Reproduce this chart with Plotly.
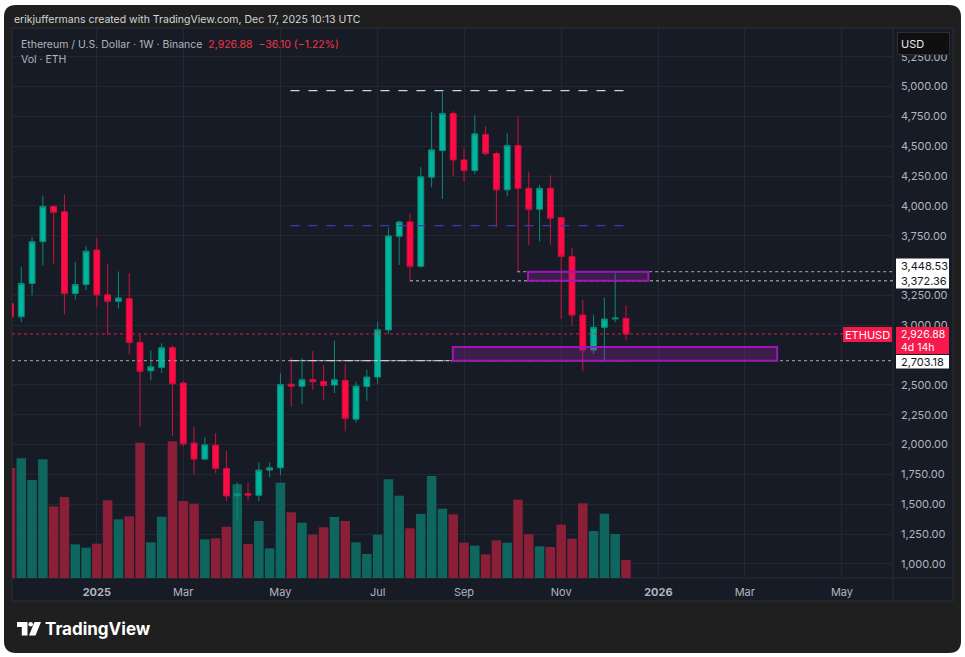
import plotly.graph_objects as go

# ---------------- data (weekly ETH/USD, Binance) ----------------
DATES = ["2024-11-11", "2024-11-18", "2024-11-25", "2024-12-02", "2024-12-09", "2024-12-16",
         "2024-12-23", "2024-12-30", "2025-01-06", "2025-01-13", "2025-01-20", "2025-01-27",
         "2025-02-03", "2025-02-10", "2025-02-17", "2025-02-24", "2025-03-03", "2025-03-10",
         "2025-03-17", "2025-03-24", "2025-03-31", "2025-04-07", "2025-04-14", "2025-04-21",
         "2025-04-28", "2025-05-05", "2025-05-12", "2025-05-19", "2025-05-26", "2025-06-02",
         "2025-06-09", "2025-06-16", "2025-06-23", "2025-06-30", "2025-07-07", "2025-07-14",
         "2025-07-21", "2025-07-28", "2025-08-04", "2025-08-11", "2025-08-18", "2025-08-25",
         "2025-09-01", "2025-09-08", "2025-09-15", "2025-09-22", "2025-09-29", "2025-10-06",
         "2025-10-13", "2025-10-20", "2025-10-27", "2025-11-03", "2025-11-10", "2025-11-17",
         "2025-11-24", "2025-12-01", "2025-12-08", "2025-12-15"]
OPEN = [3180, 3070, 3350, 3700, 3995, 3950, 3265, 3340, 3630, 3255, 3200, 3222,
        2856, 2618, 2646, 2811, 2515, 2012, 1878, 1995, 1800, 1570, 1590, 1575,
        1786, 1805, 2506, 2488, 2543, 2529, 2498, 2537, 2213, 2486, 2566, 2960,
        3745, 3865, 3493, 4240, 4463, 4774, 4385, 4296, 4597, 4438, 4134, 4505,
        4147, 3971, 4147, 3901, 3574, 3085, 2792, 2982, 3052, 3057]
HIGH = [3445, 3490, 3740, 4085, 4005, 4095, 3530, 3665, 3730, 3515, 3450, 3435,
        2920, 2790, 2848, 2830, 2530, 2150, 2062, 2096, 1947, 1682, 1682, 1850,
        1850, 2596, 2728, 2725, 2786, 2669, 2870, 2675, 2526, 2627, 3029, 3815,
        3876, 3933, 4324, 4785, 4955, 4793, 4486, 4759, 4667, 4455, 4609, 4748,
        4287, 4176, 4256, 3905, 3647, 3214, 3088, 3228, 3435, 3165]
LOW = [3015, 3025, 3250, 3500, 3515, 3090, 3215, 3295, 3150, 2920, 3140, 2755,
       2150, 2540, 2600, 2070, 1985, 1752, 1870, 1761, 1528, 1375, 1528, 1528,
       1724, 1744, 2319, 2339, 2459, 2375, 2431, 2110, 2185, 2367, 2507, 2926,
       3505, 3372, 3485, 4156, 4058, 4248, 4206, 4268, 4421, 3820, 4080, 3438,
       3672, 3703, 3675, 3052, 2996, 2613, 2758, 2708, 3024, 2873]
CLOSE = [3070, 3350, 3700, 3995, 3945, 3265, 3340, 3620, 3255, 3200, 3228, 2856,
         2613, 2652, 2811, 2509, 2006, 1878, 1998, 1800, 1570, 1590, 1575, 1786,
         1805, 2503, 2488, 2543, 2526, 2495, 2543, 2219, 2490, 2566, 2962, 3748,
         3865, 3493, 4243, 4469, 4774, 4385, 4296, 4603, 4438, 4134, 4505, 4147,
         3971, 4147, 3896, 3577, 3085, 2792, 2982, 3052, 3060, 2926.88]
VOLUME = [3300, 3590, 2940, 3560, 2150, 2430, 1010, 910, 1030, 2330, 1760, 1850,
          4060, 1070, 1840, 4100, 2310, 2230, 1160, 1190, 1540, 2810, 1020, 1710,
          890, 2860, 1970, 1660, 1300, 1520, 1830, 1710, 1070, 720, 1300, 2960,
          2470, 1490, 1920, 3060, 2080, 1910, 1060, 970, 710, 1130, 1060, 2350,
          1310, 950, 930, 1600, 1180, 2240, 1410, 1930, 1320, 540]  # thousand ETH

# 2,750 and 3,500 are hidden behind the price labels in the original
PRICE_TICKS = [1000, 1250, 1500, 1750, 2000, 2250, 2500, 3000, 3250,
               3750, 4000, 4250, 4500, 4750, 5000, 5250]
TIME_TICK_DATES = ["2025-01-06", "2025-03-03", "2025-05-05", "2025-07-07", "2025-09-01",
                   "2025-11-03", "2026-01-05", "2026-03-02", "2026-05-04"]
TIME_TICK_LABELS = ["<b>2025</b>", "Mar", "May", "Jul", "Sep", "Nov", "<b>2026</b>", "Mar", "May"]

LAST_PRICE = 2926.88
CHANGE_TEXT = "−36.10 (−1.22%)"
ATH_LEVEL = 4965
MID_LEVEL = 3834
RES_HIGH = 3448.53
RES_LOW = 3372.36
SUPPORT = 2703.18
SUPPORT_TOP = 2817

X_RANGE = ["2024-11-12 00:00", "2026-06-06 02:00"]
PRICE_RANGE = [882, 5490]
VOL_RANGE = [0, 16500]

# ---------------- styling ----------------
FONT = "Inter, Roboto, sans-serif"
BG = "#171b26"
FRAME = "#1f1f20"
GRID = "#232733"
TXT = "#b2b5be"
UP = "#00b39b"
UP_LINE = "#0b8a78"
DN = "#ff0a45"
DN_LINE = "#d0103f"
UP_VOL = "#0e665e"
DN_VOL = "#8c1f38"
LABEL_RED = "#f7194a"

W_FIG, H_FIG = 965, 657
L, R, T, B = 12, 893, 28, 578
PW, PH = R - L, B - T


def fx(x):
    return (x - L) / PW


def fy(y):
    return (B - y) / PH


vol_colors = [UP_VOL if c >= o else DN_VOL for o, c in zip(OPEN, CLOSE)]

fig = go.Figure()
fig.add_trace(go.Bar(x=DATES, y=VOLUME, marker=dict(color=vol_colors, line=dict(width=0)),
                     xaxis="x", yaxis="y", hoverinfo="skip", showlegend=False))
fig.add_trace(go.Candlestick(
    x=DATES, open=OPEN, high=HIGH, low=LOW, close=CLOSE,
    xaxis="x", yaxis="y2",
    increasing=dict(line=dict(color=UP_LINE, width=1), fillcolor=UP),
    decreasing=dict(line=dict(color=DN_LINE, width=1), fillcolor=DN),
    whiskerwidth=0, hoverinfo="skip", showlegend=False))


def rounded_rect(x0, y0, x1, y1, r):
    return (f"M {fx(x0 + r)},{fy(y0)} L {fx(x1 - r)},{fy(y0)} Q {fx(x1)},{fy(y0)} {fx(x1)},{fy(y0 + r)} "
            f"L {fx(x1)},{fy(y1 - r)} Q {fx(x1)},{fy(y1)} {fx(x1 - r)},{fy(y1)} "
            f"L {fx(x0 + r)},{fy(y1)} Q {fx(x0)},{fy(y1)} {fx(x0)},{fy(y1 - r)} "
            f"L {fx(x0)},{fy(y0 + r)} Q {fx(x0)},{fy(y0)} {fx(x0 + r)},{fy(y0)} Z")


def poly(pts):
    return "M " + " L ".join(f"{fx(a)},{fy(b)}" for a, b in pts) + " Z"


shapes = []
# outer frame and chart panel
shapes.append(dict(type="path", xref="paper", yref="paper", path=rounded_rect(4, 5, 961, 653, 12),
                   fillcolor=FRAME, line=dict(width=0), layer="below"))
shapes.append(dict(type="rect", xref="paper", yref="paper", x0=fx(12), x1=fx(953), y0=fy(28), y1=fy(601),
                   fillcolor=BG, line=dict(color="#2a2e39", width=1), layer="below"))
# axis separators
shapes.append(dict(type="line", xref="paper", yref="paper", x0=fx(893), x1=fx(893), y0=fy(28), y1=fy(601),
                   line=dict(color="#2a2e39", width=1), layer="below"))
shapes.append(dict(type="line", xref="paper", yref="paper", x0=fx(12), x1=fx(953), y0=fy(578), y1=fy(578),
                   line=dict(color="#2a2e39", width=1), layer="below"))

# user drawn levels
shapes.append(dict(type="line", xref="x", yref="y2", x0="2025-05-11 12:00", x1="2025-12-19 02:00",
                   y0=ATH_LEVEL, y1=ATH_LEVEL, line=dict(color="#d1d4dc", width=1.3, dash="dash")))
shapes.append(dict(type="line", xref="x", yref="y2", x0="2025-05-11 12:00", x1="2025-12-19 02:00",
                   y0=MID_LEVEL, y1=MID_LEVEL, line=dict(color="#3b3ba8", width=1.3, dash="dash")))
shapes.append(dict(type="line", xref="x", yref="y2", x0="2025-10-05 12:00", x1=X_RANGE[1],
                   y0=RES_HIGH, y1=RES_HIGH, line=dict(color="#8a8d96", width=1.3, dash="dot")))
shapes.append(dict(type="line", xref="x", yref="y2", x0="2025-07-28", x1=X_RANGE[1],
                   y0=RES_LOW, y1=RES_LOW, line=dict(color="#8a8d96", width=1.3, dash="dot")))
shapes.append(dict(type="line", xref="paper", yref="y2", x0=0, x1=1,
                   y0=SUPPORT, y1=SUPPORT, line=dict(color="#8a8d96", width=1.3, dash="dot")))
shapes.append(dict(type="line", xref="x", yref="y2", x0="2025-05-11 12:00", x1="2025-12-19 02:00",
                   y0=SUPPORT, y1=SUPPORT, line=dict(color="#c8cad0", width=1.3, dash="dashdot")))
shapes.append(dict(type="line", xref="paper", yref="y2", x0=0, x1=fx(843),
                   y0=LAST_PRICE, y1=LAST_PRICE, line=dict(color="#e8193f", width=1, dash="dot")))
# zones
shapes.append(dict(type="rect", xref="x", yref="y2", x0="2025-10-12 12:00", x1="2025-12-29 12:00",
                   y0=RES_LOW, y1=RES_HIGH, fillcolor="rgba(156,39,176,0.28)",
                   line=dict(color="#a115b8", width=2)))
shapes.append(dict(type="rect", xref="x", yref="y2", x0="2025-08-24 18:00", x1="2026-03-23",
                   y0=SUPPORT, y1=SUPPORT_TOP, fillcolor="rgba(156,39,176,0.28)",
                   line=dict(color="#a115b8", width=2)))
# price label backgrounds (drawn as shapes so the texts stay separate)
shapes.append(dict(type="rect", xref="paper", yref="paper", x0=fx(896), x1=fx(949), y0=fy(258.5), y1=fy(288.5),
                   fillcolor="#ffffff", line=dict(width=0)))
shapes.append(dict(type="rect", xref="paper", yref="paper", x0=fx(896), x1=fx(949), y0=fy(327), y1=fy(354),
                   fillcolor=LABEL_RED, line=dict(width=0)))
shapes.append(dict(type="rect", xref="paper", yref="paper", x0=fx(896), x1=fx(949), y0=fy(355), y1=fy(368.5),
                   fillcolor="#ffffff", line=dict(width=0)))
shapes.append(dict(type="rect", xref="paper", yref="paper", x0=fx(843), x1=fx(892), y0=fy(327), y1=fy(342),
                   fillcolor=LABEL_RED, line=dict(width=0)))
# TradingView logo
shapes.append(dict(type="path", xref="paper", yref="paper",
                   path=poly([(17, 622), (27.5, 622), (27.5, 635.5), (21.8, 635.5), (21.8, 627), (17, 627)]),
                   fillcolor="#ffffff", line=dict(width=0)))
shapes.append(dict(type="circle", xref="paper", yref="paper", x0=fx(28.4), x1=fx(33), y0=fy(622), y1=fy(626.6),
                   fillcolor="#ffffff", line=dict(width=0)))
shapes.append(dict(type="path", xref="paper", yref="paper",
                   path=poly([(34.5, 622), (41, 622), (35.5, 635.5), (29, 635.5)]),
                   fillcolor="#ffffff", line=dict(width=0)))

annotations = []


def ann(x, y, text, size=11, color=TXT, xanchor="left", **kw):
    annotations.append(dict(xref="paper", yref="paper", x=fx(x), y=fy(y), text=text, showarrow=False,
                            xanchor=xanchor, yanchor="middle", font=dict(family=FONT, size=size, color=color),
                            borderpad=0, **kw))


ann(13, 19.5, "erikjuffermans created with TradingView.com, Dec 17, 2025 10:13 UTC", size=10.5, color="#d1d4dc")
ann(20, 44.5, "Ethereum / U.S. Dollar · 1W · Binance\u00a0\u00a0<span style='color:#f23645'>2,926.88\u00a0\u00a0"
    + CHANGE_TEXT + "</span>", size=10.5)
ann(20, 59.5, "Vol · ETH", size=10.5)
ann(44, 629, "<b>TradingView</b>", size=17, color="#ffffff")

# USD box
annotations.append(dict(xref="paper", yref="paper", x=fx(923.5), y=fy(43.5), text="\u00a0USD", showarrow=False,
                        xanchor="center", yanchor="middle", width=51, height=21, align="left",
                        bgcolor="#0f0f10", bordercolor="#2e2e31", borderwidth=1, borderpad=0,
                        font=dict(family=FONT, size=11, color="#e8e8e8")))

ann(900, 266, f"{RES_HIGH:,.2f}", color="#131722")
ann(900, 281, f"{RES_LOW:,.2f}", color="#131722")
ann(900, 335, f"{LAST_PRICE:,.2f}", color="#ffffff", size=10.5)
ann(900, 347.5, "4d 14h", color="#ffffff", size=10.5)
ann(900, 362, f"{SUPPORT:,.2f}", color="#131722")
ann(867.5, 334.5, "ETHUSD", color="#ffffff", xanchor="center")

fig.update_layout(
    width=W_FIG, height=H_FIG,
    margin=dict(l=L, r=W_FIG - R, t=T, b=H_FIG - B),
    paper_bgcolor="#ffffff", plot_bgcolor=BG,
    font=dict(family=FONT, size=11, color=TXT),
    showlegend=False, bargap=0.12, boxgap=0.22,
    xaxis=dict(type="date", range=X_RANGE, tickvals=TIME_TICK_DATES, ticktext=TIME_TICK_LABELS,
               showgrid=True, gridcolor=GRID, gridwidth=1, zeroline=False, showline=False, ticks="",
               tickfont=dict(family=FONT, size=11, color=TXT), rangeslider=dict(visible=False),
               fixedrange=True, anchor="y", ticklabelstandoff=6),
    yaxis=dict(range=VOL_RANGE, visible=False, showgrid=False, zeroline=False, fixedrange=True),
    yaxis2=dict(range=PRICE_RANGE, overlaying="y", side="right", anchor="x", tickvals=PRICE_TICKS,
                tickformat=",.2f", showgrid=True, gridcolor=GRID, gridwidth=1, zeroline=False,
                showline=False, ticks="", tickfont=dict(family=FONT, size=11, color=TXT),
                ticklabelstandoff=7, fixedrange=True),
    shapes=shapes, annotations=annotations,
)

fig.write_html("out.html")
